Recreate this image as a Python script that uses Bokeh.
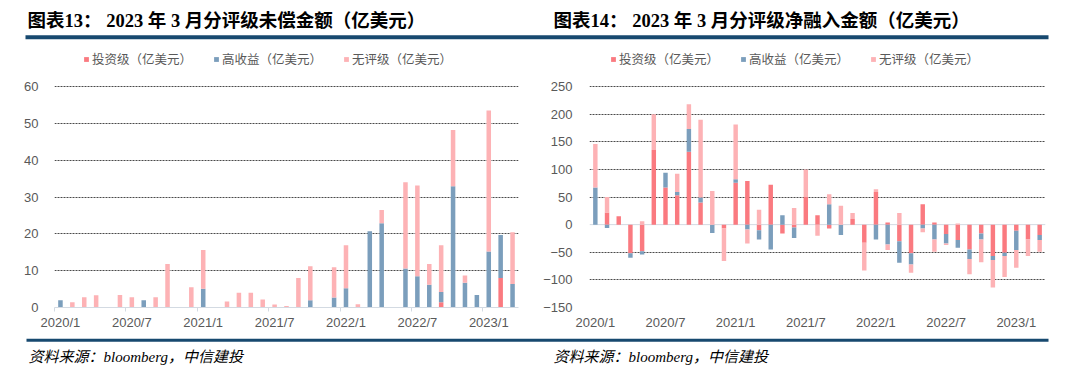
import numpy as np
from bokeh.plotting import figure
from bokeh.models import Range1d, FixedTicker, Legend, LegendItem, Span
from bokeh.layouts import column, row
from bokeh.embed import file_html
from bokeh.resources import INLINE
from bokeh.core.properties import value

# ---------------- data ----------------
months = ["2020/1", "2020/2", "2020/3", "2020/4", "2020/5", "2020/6", "2020/7", "2020/8",
          "2020/9", "2020/10", "2020/11", "2020/12", "2021/1", "2021/2", "2021/3", "2021/4",
          "2021/5", "2021/6", "2021/7", "2021/8", "2021/9", "2021/10", "2021/11", "2021/12",
          "2022/1", "2022/2", "2022/3", "2022/4", "2022/5", "2022/6", "2022/7", "2022/8",
          "2022/9", "2022/10", "2022/11", "2022/12", "2023/1", "2023/2", "2023/3"]
shown_labels = ["2020/1", "2020/7", "2021/1", "2021/7", "2022/1", "2022/7", "2023/1"]
series_names = ["投资级（亿美元）", "高收益（亿美元）", "无评级（亿美元）"]

# Chart 13: outstanding amount
out_ig = [0, 0, 0, 0, 0, 0, 0, 0, 0, 0, 0, 0, 0, 0, 0, 0, 0, 0, 0, 0, 0, 0, 0, 0,
          0, 0, 0, 0, 0, 0, 0, 0, 1.4, 0, 0, 0, 0, 8.0, 0]
out_hy = [2.0, 0, 0, 0, 0, 0, 0, 2.0, 0, 0, 0, 0, 5.1, 0, 0, 0, 0, 0, 0, 0, 0, 2.0, 0, 2.7,
          5.2, 0, 20.7, 22.9, 0, 10.6, 8.5, 6.2, 2.8, 32.9, 6.7, 3.4, 15.2, 11.7, 6.4]
out_nr = [0, 1.4, 2.8, 3.3, 0, 3.4, 2.8, 0, 2.8, 11.8, 0, 5.5, 10.5, 0, 1.6, 4.0, 4.0, 2.2,
          0.8, 0.4, 8.0, 9.2, 0, 8.2, 11.7, 0.9, 0, 3.6, 0, 23.4, 24.6, 5.6, 12.7, 15.3, 2.0,
          0, 38.3, 0, 14.0]

# Chart 14: net financing amount
net_ig = [0, 22, 15, -52, -48, 135, 67, 53, 132, 40, 0, -7, 76, 79, -10, 72, -16, -5, 50, 17,
          -7, 0, 10, -33, 59, 4, -30, -52, 37, 4, -17, -28, -45, -16, -57, -51, -11, -27, -19]
net_hy = [67, -6, 0, -8, -6, 0, 27, 6, 41, 9, -15, 0, 6, -9, -17, -45, 17, -19, 0, 0,
          37, -19, 0, 0, -27, -36, -39, -20, -7, -27, -17, -14, -17, -11, -7, -6, -35, 0, -9]
net_nr = [79, 28, 0, 0, 6, 65, 0, 33, 45, 141, 61, -59, 99, -25, 27, 0, 0, 30, 50, -20,
          18, 34, 11, -50, 5, -10, 21, -15, -7, -22, -3, 2, -28, -41, -50, -38, -32, -30, -21]

titles = ["图表13： 2023 年 3 月分评级未偿金额（亿美元）",
          "图表14： 2023 年 3 月分评级净融入金额（亿美元）"]
source_text = "资料来源：bloomberg，中信建投"

# ---------------- style ----------------
COLORS = ["#FA7A80", "#7B9EBC", "#FDB2B5"]
NAVY = "#17496F"
GRID = "#4a4a4a"
AXIS = "#D3DAE2"
LABEL = "#595959"
CJK = "Noto Sans CJK SC"
TITLE_FONT = value("'Liberation Serif', 'Noto Sans CJK SC'")

PAGE_W = 1078
HEAD_H = 45
FIG_H = 290
FOOT_H = 371 - HEAD_H - FIG_H
TOP = 5          # frame top inside chart figure
BOTTOM = 28      # space for x labels
PLOT_H = 221     # pixel height of the value area (top gridline to baseline)
FRAME_H = FIG_H - TOP - BOTTOM


def stacked(series):
    n = len(series[0])
    pos = np.zeros(n)
    neg = np.zeros(n)
    res = []
    for s in series:
        s = np.asarray(s, dtype=float)
        bottom = np.where(s >= 0, pos, neg)
        top = bottom + s
        pos = np.where(s >= 0, top, pos)
        neg = np.where(s < 0, top, neg)
        res.append((bottom, top))
    return res


def make_chart(series, y0, y1, yticks, gridticks, width, bl, br, legend_x, zero_span, ystandoff):
    n = len(months)
    # extend the range above the top tick so the legend sits inside the frame
    y_end = y1 + (FRAME_H - PLOT_H) * (y1 - y0) / PLOT_H
    p = figure(width=width, height=FIG_H, output_backend="svg", toolbar_location=None,
               x_range=Range1d(-0.5, n - 0.5), y_range=Range1d(y0, y_end),
               min_border_left=bl, min_border_right=br, min_border_top=TOP,
               min_border_bottom=BOTTOM)
    p.outline_line_color = None
    p.background_fill_color = None
    p.border_fill_color = None
    p.xgrid.visible = False
    p.ygrid.ticker = FixedTicker(ticks=gridticks)
    p.ygrid.grid_line_color = GRID
    p.ygrid.grid_line_dash = "2 1"
    p.ygrid.grid_line_width = 1

    x = np.arange(n)
    renderers = []
    for (bottom, top), c in zip(stacked(series), COLORS):
        r = p.vbar(x=x, bottom=bottom, top=top, width=0.38, fill_color=c, line_color=None)
        renderers.append(r)

    if zero_span:
        sp = Span(location=0, dimension="width", line_color=AXIS, line_width=1, level="underlay")
        p.add_layout(sp)

    # y axis
    yax = p.yaxis[0]
    yax.ticker = FixedTicker(ticks=yticks)
    yax.axis_line_color = None
    yax.major_tick_line_color = None
    yax.minor_tick_line_color = None
    yax.major_label_text_font = "Liberation Sans"
    yax.major_label_text_font_size = "13px"
    yax.major_label_text_color = LABEL
    yax.major_label_standoff = ystandoff

    # x axis
    label_pos = [months.index(m) for m in shown_labels]
    xax = p.xaxis[0]
    xax.ticker = FixedTicker(ticks=label_pos, minor_ticks=[i - 0.5 for i in range(0, n + 1, 6)])
    xax.major_label_overrides = {i: months[i] for i in label_pos}
    xax.major_tick_line_color = None
    xax.major_tick_out = 0
    xax.major_tick_in = 0
    xax.minor_tick_in = 0
    xax.minor_tick_out = 4
    xax.major_label_text_font = "Liberation Sans"
    xax.major_label_text_font_size = "13px"
    xax.major_label_text_color = LABEL
    xax.major_label_standoff = 3
    if zero_span:
        xax.axis_line_color = None
        xax.minor_tick_line_color = None
    else:
        xax.axis_line_color = AXIS
        xax.minor_tick_line_color = AXIS

    legend = Legend(items=[LegendItem(label=nm, renderers=[r]) for nm, r in zip(series_names, renderers)],
                    orientation="horizontal", location=(legend_x, FRAME_H - 18),
                    glyph_width=6, glyph_height=6, label_standoff=3, spacing=21,
                    padding=0, margin=0, label_height=14,
                    label_text_font=CJK, label_text_font_size="12.5px",
                    label_text_color=LABEL, background_fill_alpha=0, border_line_color=None)
    p.add_layout(legend)
    return p


left = make_chart([out_ig, out_hy, out_nr], 0, 60, [0, 10, 20, 30, 40, 50, 60],
                  [10, 20, 30, 40, 50, 60], 539, 54, 21, 29, False, 10)
right = make_chart([net_ig, net_hy, net_nr], -150, 250,
                   [-150, -100, -50, 0, 50, 100, 150, 200, 250],
                   [-150, -100, -50, 50, 100, 150, 200, 250], 539, 50, 33, 21, True, 11)


def strip(h):
    f = figure(width=PAGE_W, height=h, output_backend="svg", toolbar_location=None,
               x_range=Range1d(0, PAGE_W), y_range=Range1d(h, 0), min_border=0,
               x_axis_type=None, y_axis_type=None)
    f.grid.visible = False
    f.outline_line_color = None
    f.background_fill_color = None
    f.border_fill_color = None
    return f


header = strip(HEAD_H)
header.text(x=[27, 553], y=[20, 20], text=titles, text_font=TITLE_FONT,
            text_font_size="18.5px", text_font_style="bold", text_color="#000000",
            text_baseline="middle", text_align="left")
header.quad(left=[25], right=[1048], top=[34.7], bottom=[38.7], fill_color=NAVY, line_color=None)

footer = strip(FOOT_H)
footer.quad(left=[26], right=[1048], top=[3.2], bottom=[6.2], fill_color=NAVY, line_color=None)
footer.text(x=[28, 553], y=[21, 21], text=[source_text, source_text], text_font=TITLE_FONT,
            text_font_size="15px", text_font_style="italic", text_color="#000000",
            text_baseline="middle", text_align="left")

layout = column(header, row(left, right), footer)
open("out.html", "w").write(file_html(layout, INLINE))
